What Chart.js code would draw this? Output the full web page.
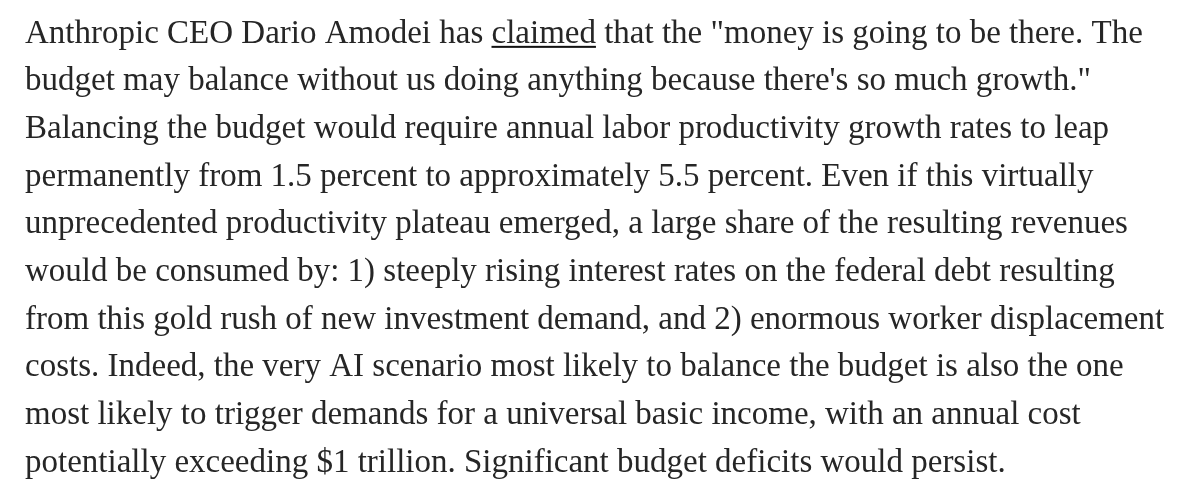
<!DOCTYPE html>
<html>
<head>
<meta charset="utf-8">
<script src="https://cdn.jsdelivr.net/npm/chart.js@4.4.1/dist/chart.umd.min.js"></script>
<style>
  html, body { margin: 0; padding: 0; background: #fff; }
  #wrap { width: 1200px; height: 491px; }
</style>
</head>
<body>
<div id="wrap"><canvas id="textChart"></canvas></div>
<script>
// paragraph lines, as broken in the picture
var lines = [
    'Anthropic CEO Dario Amodei has claimed that the "money is going to be there. The',
    'budget may balance without us doing anything because there\'s so much growth."',
    'Balancing the budget would require annual labor productivity growth rates to leap',
    'permanently from 1.5 percent to approximately 5.5 percent. Even if this virtually',
    'unprecedented productivity plateau emerged, a large share of the resulting revenues',
    'would be consumed by: 1) steeply rising interest rates on the federal debt resulting',
    'from this gold rush of new investment demand, and 2) enormous worker displacement',
    'costs. Indeed, the very AI scenario most likely to balance the budget is also the one',
    'most likely to trigger demands for a universal basic income, with an annual cost',
    'potentially exceeding $1 trillion. Significant budget deficits would persist.'
];
// the linked word
var linkLine = 0;
var linkBefore = 'Anthropic CEO Dario Amodei has ';
var linkWord = 'claimed';

var textFont = { family: "'Liberation Serif', serif", size: 33, weight: 'normal', lineHeight: '47.7px' };
var textColor = '#262626';

// underline the linked word under the title text
const underlinePlugin = {
    id: 'underline',
    afterDraw: function (chart) {
        const tb = chart.titleBlock;
        if (!tb) return;
        const ctx = chart.ctx;
        const f = Chart.helpers.toFont(textFont);
        ctx.save();
        ctx.font = f.string;
        const x0 = tb.left + ctx.measureText(linkBefore).width;
        const w = ctx.measureText(linkWord).width;
        const y = tb.top + tb._padding.top + f.lineHeight / 2 + linkLine * f.lineHeight + 12;
        ctx.fillStyle = '#111';
        ctx.fillRect(x0, y, w, 2);
        ctx.restore();
    }
};

const ctx = document.getElementById('textChart').getContext('2d');
const textChart = new Chart(ctx, {
    type: 'bar',
    data: { labels: [], datasets: [] },
    options: {
        responsive: true,
        maintainAspectRatio: false,
        animation: false,
        layout: { padding: { left: 25, top: 0, right: 0, bottom: 0 } },
        scales: { x: { display: false }, y: { display: false } },
        plugins: {
            legend: { display: false },
            tooltip: { enabled: false },
            title: {
                display: true,
                text: lines,
                align: 'start',
                color: textColor,
                font: textFont,
                padding: { top: 10, bottom: 0 }
            }
        }
    },
    plugins: [underlinePlugin]
});
</script>
</body>
</html>
